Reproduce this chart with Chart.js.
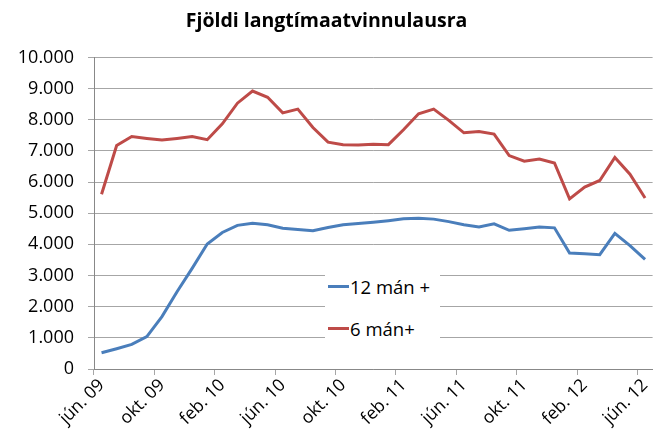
<!DOCTYPE html>
<html>
<head>
<meta charset="utf-8">
<script src="https://cdn.jsdelivr.net/npm/chart.js@4/dist/chart.umd.min.js"></script>
<style>
  html, body { margin:0; padding:0; background:#fff; }
  #wrap { position:relative; width:660px; height:439px; }
  #legend { position:absolute; left:325px; top:262px; width:115px; height:84px; background:#fff;
            font-family:"Open Sans", sans-serif; font-size:18.5px; color:#000; }
  .item { position:absolute; left:3px; display:flex; align-items:center; white-space:nowrap; }
  .swatch { display:inline-block; width:21px; height:3px; margin-right:1px; }
</style>
</head>
<body>
<div id="wrap">
  <canvas id="c" width="660" height="439"></canvas>
  <div id="legend"></div>
</div>
<script>
// months jún 09 .. jún 12
const months = ['jún. 09','júl. 09','ágú. 09','sep. 09','okt. 09','nóv. 09','des. 09',
  'jan. 10','feb. 10','mar. 10','apr. 10','maí. 10','jún. 10','júl. 10','ágú. 10','sep. 10','okt. 10','nóv. 10','des. 10',
  'jan. 11','feb. 11','mar. 11','apr. 11','maí. 11','jún. 11','júl. 11','ágú. 11','sep. 11','okt. 11','nóv. 11','des. 11',
  'jan. 12','feb. 12','mar. 12','apr. 12','maí. 12','jún. 12'];

const seriesNames = ['12 mán +', '6 mán+'];

const months12 = [520, 650, 790, 1040, 1680, 2480, 3230, 4010, 4380, 4610, 4680, 4630, 4520,
  4480, 4440, 4540, 4630, 4670, 4710, 4760, 4820, 4840, 4810, 4730, 4630, 4560, 4660,
  4450, 4500, 4560, 4530, 3720, 3700, 3670, 4350, 3960, 3520];

const months6 = [5610, 7170, 7460, 7400, 7350, 7400, 7460, 7360, 7870, 8530, 8920, 8720, 8220,
  8340, 7750, 7280, 7200, 7190, 7215, 7200, 7680, 8190, 8340, 7980, 7580, 7620, 7540,
  6850, 6670, 6740, 6610, 5460, 5840, 6050, 6790, 6250, 5490];

const yTicks = [0, 1000, 2000, 3000, 4000, 5000, 6000, 7000, 8000, 9000, 10000];

const C = { blue:'#4a7ebb', red:'#be4b48', grid:'#a6a6a6', axis:'#888888', text:'#000' };
const FONT = '"Open Sans", sans-serif';

const fmt = v => String(v).replace(/\B(?=(\d{3})+(?!\d))/g, '.');

new Chart(document.getElementById('c'), {
  type: 'line',
  data: {
    labels: months,
    datasets: [
      { label: seriesNames[0], data: months12, borderColor: C.blue, backgroundColor: C.blue,
        borderWidth: 3, pointRadius: 0, tension: 0 },
      { label: seriesNames[1], data: months6, borderColor: C.red, backgroundColor: C.red,
        borderWidth: 3, pointRadius: 0, tension: 0 },
    ]
  },
  options: {
    responsive: false,
    animation: false,
    layout: { padding: { left: 0, right: 7, top: 0, bottom: 0 } },
    plugins: {
      legend: { display: false },
      tooltip: { enabled: false },
      title: { display: true, text: 'Fjöldi langtímaatvinnulausra', color: C.text,
               font: { family: FONT, size: 19.5, weight: 'bold' }, padding: { top: 10, bottom: 24 } }
    },
    scales: {
      x: {
        offset: true,
        afterFit: s => { s.height = 70; },
        grid: { offset: true, drawOnChartArea: false, drawTicks: true, tickLength: 6,
                color: c => (c.index % 4 === 0 ? C.grid : 'rgba(0,0,0,0)') },
        border: { display: true, color: C.axis, width: 1 },
        ticks: { autoSkip: false, minRotation: 45, maxRotation: 45, color: C.text, padding: 0,
                 font: { family: FONT, size: 17.5 },
                 callback: (v, i) => (i % 4 === 0 ? months[i] : '') }
      },
      y: {
        min: 0, max: 10000,
        afterFit: s => { s.width = 94; },
        afterBuildTicks: s => { s.ticks = yTicks.map(v => ({ value: v })); },
        grid: { color: C.grid, tickLength: 6, drawTicks: true },
        border: { display: true, color: C.axis, width: 1 },
        ticks: { color: C.text, padding: 14, font: { family: FONT, size: 18 }, callback: v => fmt(v) }
      }
    }
  }
});

// legend inside the plot, as in the reference
const colors = [C.blue, C.red];
document.getElementById('legend').innerHTML = seriesNames.map((n, i) =>
  `<div class="item" style="top:${i === 0 ? 12 : 54}px"><span class="swatch" style="background:${colors[i]}"></span>${n}</div>`
).join('');
</script>
</body>
</html>
